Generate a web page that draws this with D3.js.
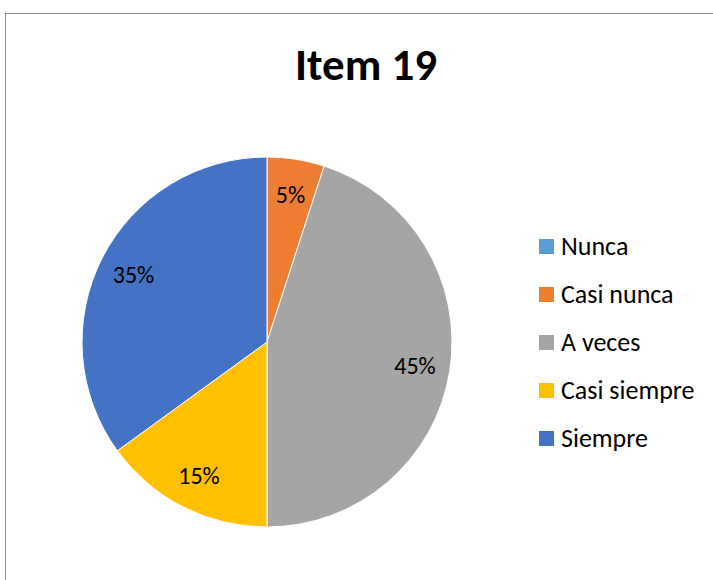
<!DOCTYPE html>
<html><head><meta charset="utf-8">
<script src="https://cdn.jsdelivr.net/npm/d3@7"></script>
<style>body{margin:0;background:#fff;}svg{display:block;}</style>
</head><body>
<script>
const categories = ["Nunca","Casi nunca","A veces","Casi siempre","Siempre"];
const values = [0,5,45,15,35];
const colors = ["#5B9BD5","#ED7D31","#A5A5A5","#FFC000","#4472C4"];
const title = "Item 19";

const W=713,H=580;
const svg=d3.select("body").append("svg").attr("width",W).attr("height",H);
svg.append("rect").attr("x",5.5).attr("y",13.5).attr("width",W+10).attr("height",H+10)
  .attr("fill","#fff").attr("stroke","#8c8c8c").attr("stroke-width",1);
const font="Carlito, Calibri, Lato, 'Open Sans', sans-serif";
svg.append("text").attr("x",366).attr("y",80).attr("text-anchor","middle")
  .attr("font-family",font).attr("font-weight","bold").attr("font-size",45).attr("fill","#000").text(title);

const cx=267,cy=342,r=185;
const color=d3.scaleOrdinal().domain(categories).range(colors);
const pie=d3.pie().value(d=>d.v).sort(null);
const data=categories.map((c,i)=>({c,v:values[i]}));
const arcs=pie(data);
const arc=d3.arc().innerRadius(0).outerRadius(r);
const g=svg.append("g").attr("transform",`translate(${cx},${cy})`);
g.selectAll("path").data(arcs).join("path").attr("d",arc)
  .attr("fill",d=>color(d.data.c)).attr("stroke","#fff").attr("stroke-width",1);
const total=d3.sum(values);
const lab=d3.arc().innerRadius(r*0.81).outerRadius(r*0.81);
g.selectAll("text").data(arcs.filter(d=>d.data.v>0)).join("text")
  .attr("transform",d=>`translate(${lab.centroid(d)})`)
  .attr("text-anchor","middle").attr("dy","0.36em")
  .attr("font-family",font).attr("font-size",24).attr("fill","#000")
  .text(d=>Math.round(d.data.v/total*100)+"%");

const leg=svg.append("g");
const ly=d3.scalePoint().domain(categories).range([246,438]);
const items=leg.selectAll("g").data(categories).join("g").attr("transform",d=>`translate(539,${ly(d)})`);
items.append("rect").attr("x",0).attr("y",-7).attr("width",15).attr("height",15).attr("fill",d=>color(d));
items.append("text").attr("x",22).attr("y",0).attr("dy","0.36em").attr("font-family",font)
  .attr("font-size",26).attr("fill","#000").text(d=>d);
</script>
</body></html>
